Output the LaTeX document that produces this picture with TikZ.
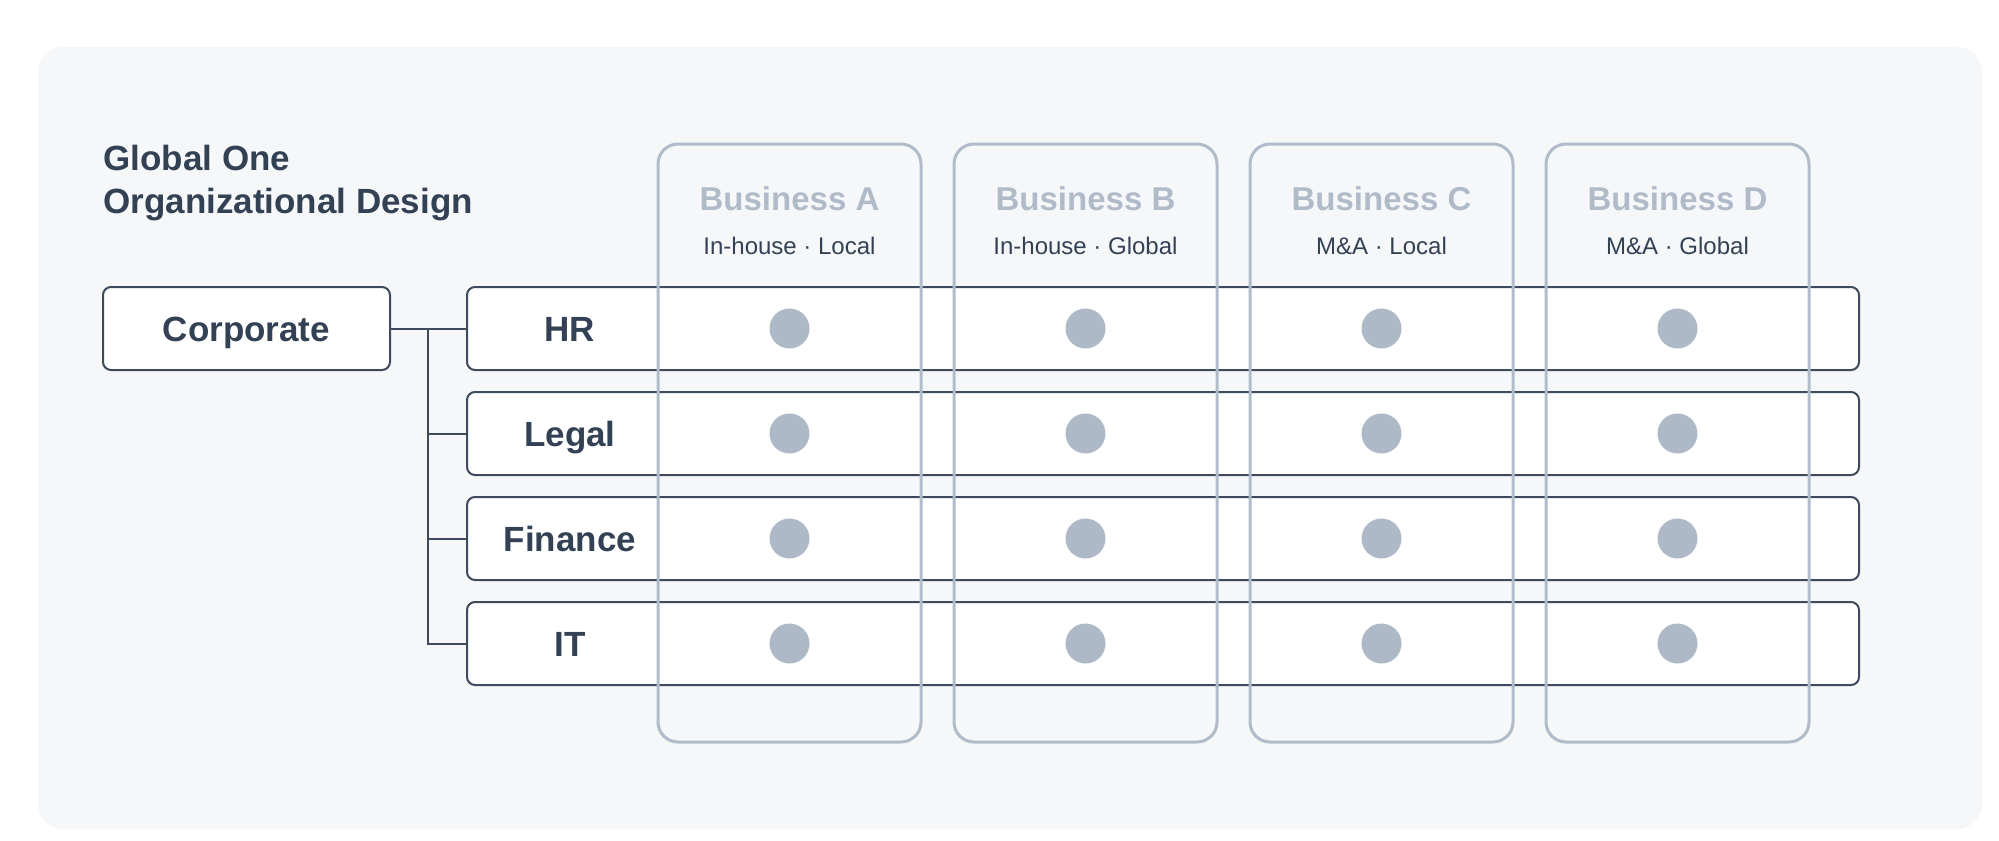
\documentclass[tikz,border=0pt]{standalone}
\usepackage{fontspec}
\setmainfont{Liberation Sans}
\definecolor{panelbg}{HTML}{F6F7F9}
\definecolor{ink}{HTML}{334155}
\definecolor{rowline}{HTML}{3E4B5C}
\definecolor{colline}{HTML}{B1BCCA}
\definecolor{dotfill}{HTML}{AEB9C7}
\definecolor{bizhead}{HTML}{B0BBC9}
\begin{document}
\begin{tikzpicture}[x=0.5pt,y=-0.5pt,
  rowbox/.style={draw=rowline, line width=1pt, fill=white, rounded corners=4pt,
    minimum width=696pt, minimum height=41.5pt, inner sep=0pt},
  corpbox/.style={draw=rowline, line width=1pt, fill=white, rounded corners=4pt,
    minimum width=143.5pt, minimum height=41.5pt, inner sep=0pt,
    text height=12.6pt, text depth=0pt,
    font=\fontsize{17.5pt}{20pt}\selectfont\bfseries, text=ink},
  rowlabel/.style={font=\fontsize{17.5pt}{20pt}\selectfont\bfseries, text=ink, inner sep=0pt,
    text height=12.6pt, text depth=0pt},
  colbox/.style={draw=colline, line width=1.5pt, rounded corners=10pt,
    minimum width=131.5pt, minimum height=299pt, inner sep=0pt},
  bizname/.style={font=\fontsize{16.5pt}{19pt}\selectfont\bfseries, text=bizhead, anchor=base, inner sep=0pt},
  bizsub/.style={font=\fontsize{12pt}{14pt}\selectfont, text=ink, anchor=base, inner sep=0pt},
  dot/.style={circle, fill=dotfill, minimum size=20pt, inner sep=0pt},
  conn/.style={draw=rowline, line width=1pt}
]
\useasboundingbox (0,0) rectangle (1999,841);
\fill[white] (0,0) rectangle (1999,841);
\fill[panelbg, rounded corners=12.5pt] (38,47) rectangle (1982,829);

% title
\node[anchor=base west, inner sep=0pt, text=ink, font=\fontsize{17.5pt}{21.5pt}\selectfont\bfseries] (t1) at (103,170) {Global One};
\node[anchor=base west, inner sep=0pt, text=ink, font=\fontsize{17.5pt}{21.5pt}\selectfont\bfseries] (t2) at (103,213) {Organizational Design};

% corporate and rows
\node[corpbox] (corp) at (246.5,328.5) {Corporate};
\node[rowbox] (hr) at (1163,328.5) {};
\node[rowbox] (legal) at (1163,433.5) {};
\node[rowbox] (fin) at (1163,538.5) {};
\node[rowbox] (it) at (1163,643.5) {};

\node[rowlabel] (lhr) at (570,328.5) {HR};
\node[rowlabel] (llegal) at (570,433.5) {Legal};
\node[rowlabel] (lfin) at (570,538.5) {Finance};
\node[rowlabel] (lit) at (570,643.5) {IT};

% connectors
\coordinate (jn) at (428,328.5);
\draw[conn] (corp.east) -- (hr.west);
\draw[conn] (jn) |- (legal.west);
\draw[conn] (jn) |- (fin.west);
\draw[conn] (jn) |- (it.west);

% columns
\foreach \n/\x/\name/\sub in {a/789.5/Business A/In-house · Local,
                              b/1085.5/Business B/In-house · Global,
                              c/1381.5/Business C/M\&A · Local,
                              d/1677.5/Business D/M\&A · Global}{
  \node[colbox] (col\n) at (\x,443) {};
  \node[bizname] (bn\n) at (\x,210) {\name};
  \node[bizsub] (bs\n) at (\x,254) {\sub};
  \node[dot] (d\n1) at (\x,328.5) {};
  \node[dot] (d\n2) at (\x,433.5) {};
  \node[dot] (d\n3) at (\x,538.5) {};
  \node[dot] (d\n4) at (\x,643.5) {};
}
\end{tikzpicture}
\end{document}
